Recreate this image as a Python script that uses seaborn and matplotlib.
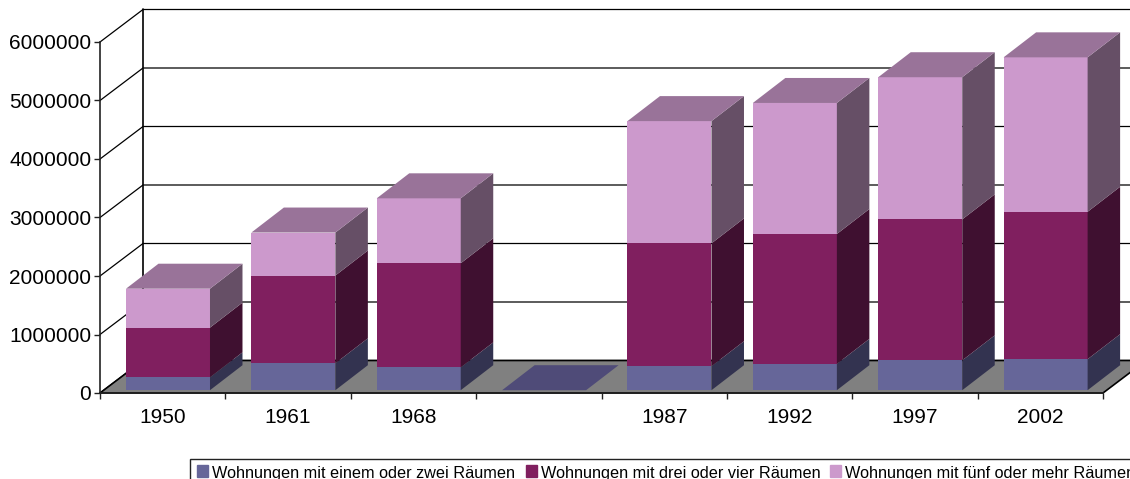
import pandas as pd
import matplotlib
matplotlib.use("Agg")
import matplotlib.pyplot as plt
import matplotlib.transforms as mtransforms
from matplotlib.patches import Patch
import seaborn as sns

# --- data ---
jahre = ["1950", "1961", "1968", "", "1987", "1992", "1997", "2002"]
serien = [
    "Wohnungen mit einem oder zwei Räumen",
    "Wohnungen mit drei oder vier Räumen",
    "Wohnungen mit fünf oder mehr Räumen",
]
ein_zwei = [220000, 460000, 390000, 0, 410000, 450000, 510000, 530000]
drei_vier = [850000, 1500000, 1780000, 0, 2100000, 2220000, 2410000, 2520000]
fuenf_mehr = [665000, 735000, 1110000, 0, 2090000, 2240000, 2430000, 2640000]
y_ticks = [0, 1000000, 2000000, 3000000, 4000000, 5000000, 6000000]

# front, side, top colour of each series
farben = ["#666699", "#801F5F", "#CC99CC"]
seiten = ["#333350", "#3F1030", "#664F66"]
oben = ["#4F4B78", "#66103F", "#997399"]

W, H = 1130, 479
PX_X = (1103 - 100) / 8     # pixels per category
PX_Y = 351 / 6000000        # pixels per unit

# 3D look: offsets in data units
wall_dx, wall_dy = 43 / PX_X, 32.5 / PX_Y
gap_dx, gap_dy = 5.3 / PX_X, 2.8 / PX_Y
bar_dx, bar_dy = 32.5 / PX_X, 25 / PX_Y

df = pd.DataFrame({"jahr": jahre, "s0": ein_zwei, "s1": drei_vier, "s2": fuenf_mehr})

sns.set_style("white")
plt.rcParams["font.family"] = ["Liberation Sans", "DejaVu Sans"]
plt.rcParams["text.color"] = "black"

fig = plt.figure(figsize=(W / 100, H / 100), dpi=100)
ax = fig.add_axes([100 / W, (H - 393) / H, 1003 / W, 351 / H])

# seaborn draws the front faces, stacked
bottom = [0] * len(jahre)
shift = mtransforms.Affine2D().translate(gap_dx, gap_dy) + ax.transData
for i, spalte in enumerate(["s0", "s1", "s2"]):
    sns.barplot(data=df, x="jahr", y=spalte, order=jahre, color=farben[i], saturation=1,
                width=0.67, bottom=bottom, linewidth=0, zorder=3, ax=ax)
    hoehen = df[spalte].tolist()
    for k, bar in enumerate(ax.containers[-1]):
        bar.set_transform(shift)
        x0 = bar.get_x() + gap_dx
        x1 = x0 + bar.get_width()
        y0 = bottom[k] + gap_dy
        y1 = y0 + hoehen[k]
        # side face
        ax.fill([x1, x1 + bar_dx, x1 + bar_dx, x1], [y0, y0 + bar_dy, y1 + bar_dy, y1],
                color=seiten[i], lw=0, zorder=3, clip_on=False)
        # top face only on the highest segment
        spalten = [ein_zwei[k], drei_vier[k], fuenf_mehr[k]]
        if (i == 2 and spalten[2] > 0) or (i == 0 and sum(spalten) == 0):
            ax.fill([x0, x1, x1 + bar_dx, x0 + bar_dx], [y1, y1, y1 + bar_dy, y1 + bar_dy],
                    color=oben[i], lw=0, zorder=3, clip_on=False)
    bottom = [b + h for b, h in zip(bottom, hoehen)]

ax.set_xlim(-0.5, 7.5)
ax.set_ylim(0, 6000000)

# floor
ax.fill([-0.5, -0.5 + wall_dx, 7.5 + wall_dx, 7.5], [0, wall_dy, wall_dy, 0],
        facecolor="#808080", edgecolor="black", lw=1.2, zorder=2, clip_on=False)

# back wall and side wall lines
for t in y_ticks:
    ax.plot([-0.5, -0.5 + wall_dx, 7.5 + wall_dx], [t, t + wall_dy, t + wall_dy],
            color="black", lw=0.9, zorder=1, clip_on=False)
ax.plot([-0.5 + wall_dx] * 2, [wall_dy, 6000000 + wall_dy], color="black", lw=1.2, zorder=1, clip_on=False)

# axes
sns.despine(ax=ax)
for seite in ["left", "bottom"]:
    ax.spines[seite].set_linewidth(1.2)
    ax.spines[seite].set_color("#222222")
    ax.spines[seite].set_zorder(4)
ax.set_xlabel("")
ax.set_ylabel("")
ax.set_yticks(y_ticks)
ax.set_yticklabels([str(t) for t in y_ticks])
ax.set_xticks([k - 0.5 for k in range(len(jahre) + 1)], minor=True)
ax.tick_params(axis="x", which="major", length=0, pad=11, labelsize=15, labelcolor="black")
ax.tick_params(axis="x", which="minor", length=4.3, width=1, color="#222222", bottom=True)
ax.tick_params(axis="y", length=4.3, width=1, pad=2, labelsize=15, color="#222222", labelcolor="black", left=True)

# legend, runs off the right edge like the original
handles = [Patch(color=c, label=s) for c, s in zip(farben, serien)]
leg = fig.legend(handles=handles, ncol=3, loc="upper left",
                 bbox_to_anchor=(190 / W, (H - 459) / H), fontsize=11.7,
                 frameon=True, fancybox=False, framealpha=1, edgecolor="#222222",
                 handlelength=0.68, handleheight=0.68, handletextpad=0.25, columnspacing=0.62,
                 borderpad=0.45, borderaxespad=0)
for h in leg.get_patches():
    h.set_y(h.get_y() + 1.2)

fig.savefig("out.png", dpi=100)
